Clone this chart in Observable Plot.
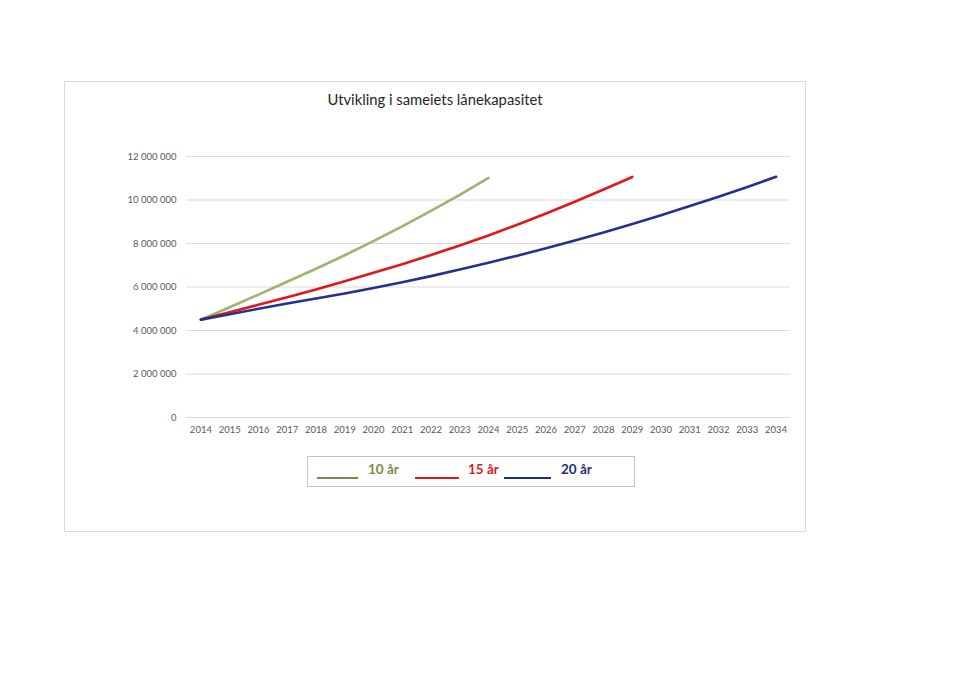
<!DOCTYPE html>
<html>
<head>
<meta charset="utf-8">
<script src="https://cdn.jsdelivr.net/npm/d3@7"></script>
<script src="https://cdn.jsdelivr.net/npm/@observablehq/plot@0.6"></script>
<style>
  body { margin: 0; background: #fff; width: 960px; height: 699px; position: relative; overflow: hidden; font-family: Lato, "Open Sans", sans-serif; }
  #frame { position: absolute; left: 64px; top: 81px; width: 740px; height: 449px; border: 1px solid #dadada; }
  #title { position: absolute; left: 64px; width: 742px; top: 90px; text-align: center; font-size: 14.8px; color: #262626; }
  #chart { position: absolute; left: 0; top: 0; }
  #legend { position: absolute; left: 307px; top: 456px; width: 326px; height: 29px; border: 1px solid #c4c4c4; }
  .lg-line { position: absolute; height: 1.5px; top: 20px; }
  .lg-text { position: absolute; top: 4px; font-weight: bold; font-size: 13.5px; }
</style>
</head>
<body>
<div id="frame"></div>
<div id="title">Utvikling i sameiets lånekapasitet</div>
<div id="chart"></div>
<div id="legend"></div>
<script>
const years = [2014, 2015, 2016, 2017, 2018, 2019, 2020, 2021, 2022, 2023, 2024,
               2025, 2026, 2027, 2028, 2029, 2030, 2031, 2032, 2033, 2034];
const yTicks = [0, 2000000, 4000000, 6000000, 8000000, 10000000, 12000000];

const seriesNames = ["10 år", "15 år", "20 år"];
const seriesColors = ["#9bb56e", "#e3161c", "#25308f"];
const legendTextColors = ["#7a8c4a", "#e3161c", "#1f2f7a"];

const values10 = [4500000, 5070000, 5650000, 6240000, 6840000, 7460000, 8110000, 8790000, 9500000, 10240000, 11020000];
const values15 = [4500000, 4840000, 5180000, 5530000, 5890000, 6260000, 6650000, 7050000, 7470000, 7910000, 8370000,
                  8860000, 9380000, 9920000, 10480000, 11060000];
const values20 = [4500000, 4750000, 5000000, 5240000, 5470000, 5700000, 5950000, 6220000, 6500000, 6800000, 7120000,
                  7440000, 7780000, 8140000, 8510000, 8900000, 9300000, 9720000, 10150000, 10600000, 11070000];

const allValues = [values10, values15, values20];
const rows = allValues.flatMap((vals, i) => vals.map((v, j) => ({year: years[j], value: v, series: seriesNames[i]})));

const fmt = d => d3.format(",")(d).replace(/,/g, " ");

const chart = Plot.plot({
  width: 960,
  height: 699,
  marginLeft: 186,
  marginRight: 170,
  marginTop: 156,
  marginBottom: 282,
  style: { background: "transparent", fontFamily: "Lato, 'Open Sans', sans-serif", fontSize: "9.5px", color: "#595959" },
  x: { type: "point", domain: years, padding: 0.5, round: false },
  y: { domain: [0, 12000000] },
  color: { domain: seriesNames, range: seriesColors },
  marks: [
    Plot.gridY(yTicks, { stroke: "#d9d9d9", strokeOpacity: 1 }),
    Plot.axisY(yTicks, { tickSize: 0, tickPadding: 10, tickFormat: fmt, label: null, fill: "#595959" }),
    Plot.axisX({ tickSize: 0, tickPadding: 9, tickFormat: d => String(d), label: null, fill: "#595959" }),
    Plot.lineY(rows, { x: "year", y: "value", z: "series", stroke: "series", strokeWidth: 2.6 })
  ]
});
document.getElementById("chart").appendChild(chart);

// legend
const legend = document.getElementById("legend");
const lineLefts = [9, 107, 196];
const lineWidths = [41, 44, 47];
const textLefts = [60, 160, 253];
seriesNames.forEach((name, i) => {
  const ln = document.createElement("div");
  ln.className = "lg-line";
  ln.style.left = lineLefts[i] + "px";
  ln.style.width = lineWidths[i] + "px";
  ln.style.background = legendTextColors[i];
  legend.appendChild(ln);
  const tx = document.createElement("div");
  tx.className = "lg-text";
  tx.style.left = textLefts[i] + "px";
  tx.style.color = legendTextColors[i];
  tx.textContent = name;
  legend.appendChild(tx);
});
</script>
</body>
</html>
